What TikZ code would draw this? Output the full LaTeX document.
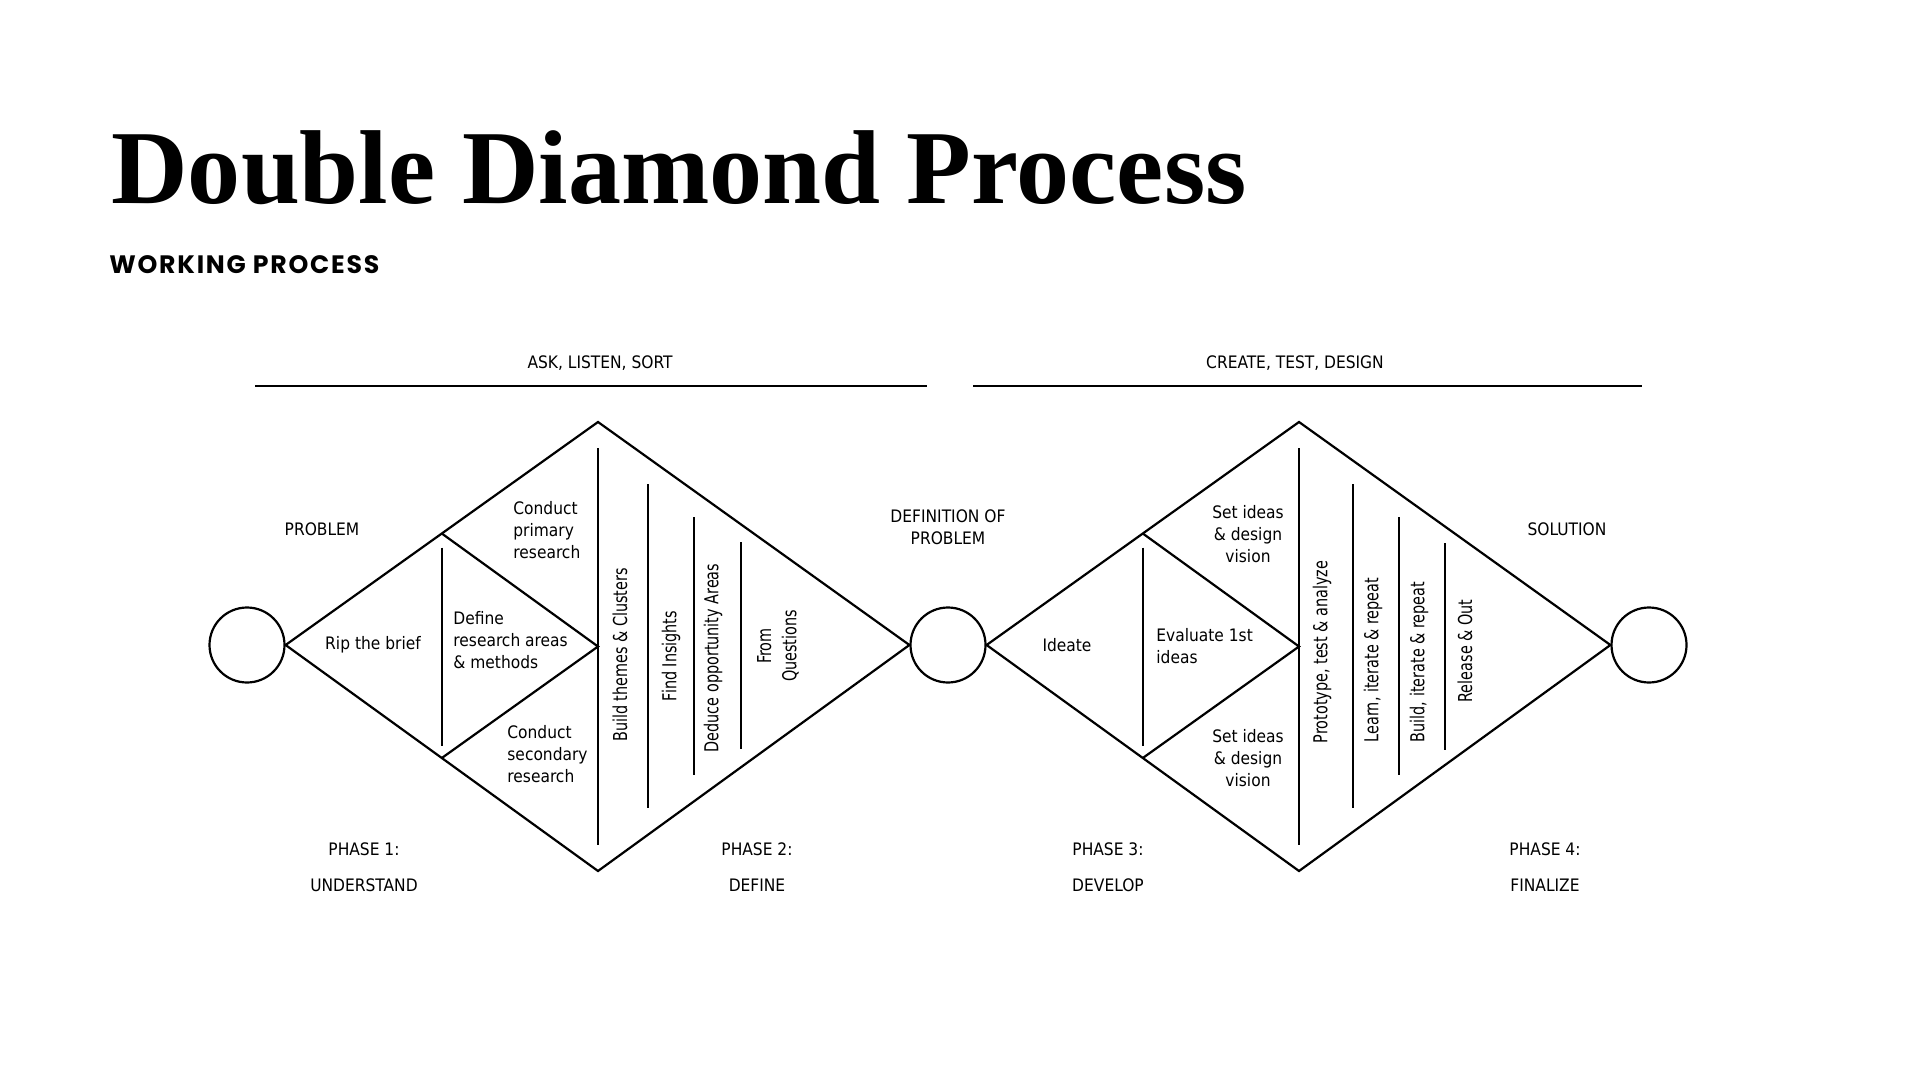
\documentclass[tikz,border=0pt]{standalone}
\usepackage{fontspec}
\setmainfont{DejaVu Sans Condensed}
\newfontfamily\headfont{Liberation Serif}
\newfontfamily\subheadfont[LetterSpace=7]{Poppins}
\usetikzlibrary{calc}
\tikzset{
	outline/.style={line width=1.1pt},
	endpoint/.style={circle, draw, outline, minimum size=37.5pt, inner sep=0pt},
	lbl/.style={font=\fontsize{8.6}{11}\selectfont, inner sep=0pt, align=center},
	lblleft/.style={lbl, align=left, anchor=west},
	vlbl/.style={font=\fontsize{8}{10.5}\selectfont, inner sep=0pt, align=center, rotate=90, yscale=1.2},
}
\begin{document}
\begin{tikzpicture}[x=0.5pt, y=-0.5pt]
	\useasboundingbox (0,0) rectangle (1920,1080);
	% heading
	\node[anchor=base west, inner sep=0pt, xscale=1.01] (title) at (111,204)
	{\headfont\bfseries\fontsize{52.5}{56}\selectfont Double Diamond Process};
	\node[anchor=base west, inner sep=0pt] (subtitle) at (109,274)
	{\subheadfont\bfseries\fontsize{12.6}{14}\selectfont WORKING PROCESS};
	% rules on top
	\draw[outline] (255,386) coordinate (r1a) -- (927,386) coordinate (r1b);
	\draw[outline] (973,386) coordinate (r2a) -- (1642,386) coordinate (r2b);
	\node[lbl] (ask) at (600,363) {ASK, LISTEN, SORT};
	\node[lbl] (create) at (1295,363) {CREATE, TEST, DESIGN};
	% circles and diamonds
	\node[endpoint] (start) at (247,645) {};
	\node[endpoint] (mid) at (948,645) {};
	\node[endpoint] (finish) at (1649,645) {};
	\path 
	(598,422) coordinate (T1)
	(598,871) coordinate (B1)
	(1299,422) coordinate (T2)
	(1299,871) coordinate (B2);
	\draw[outline] (start.east) -- (T1) -- (mid.west) -- (B1) -- cycle;
	\draw[outline] (mid.east) -- (T2) -- (finish.west) -- (B2) -- cycle;
	\foreach \l/\i in {start/1, mid/2}{
		\path ($(\l.east)!.5!(T\i)$) coordinate (U\i)
		($(\l.east)!.5!(B\i)$) coordinate (L\i)
		($(T\i)!.5!(B\i)$) coordinate (C\i);
		\draw[outline] (U\i) -- (C\i) -- (L\i);
		\draw[outline] ($(U\i)+(0,14)$) -- ($(L\i)+(0,-12)$);
	}
	\foreach \x/\a/\b in {598/448/845, 648/484/808, 694/517/775, 741/542/749,
		1299/448/845, 1353/484/808, 1399/517/775, 1445/543/750}
	\draw[outline] (\x,\a) -- (\x,\b);
	% outside labels
	\node[lbl] (problem) at (322,529) {PROBLEM};
	\node[lbl] (defprob) at (948,527) {DEFINITION OF\\PROBLEM};
	\node[lbl] (solution) at (1567,529) {SOLUTION};
	\foreach \n/\x/\t/\s in {ph1/364/PHASE 1:/UNDERSTAND, ph2/757/PHASE 2:/DEFINE,
		ph3/1108/PHASE 3:/DEVELOP, ph4/1545/PHASE 4:/FINALIZE}{
		\node[lbl] (\n) at (\x,849) {\t};
		\node[lbl] (\n name) at (\x,885) {\s};
	}
	% inside the diamonds
	\node[lbl] (rip) at (373,645) {Rip the brief};
	\node[lblleft] (define) at (453,640) {Define\\research areas\\\& methods};
	\node[lblleft] (primary) at (513,530) {Conduct\\primary\\research};
	\node[lblleft] (secondary) at (507,754) {Conduct\\secondary\\research};
	\node[lbl] (ideate) at (1067,645) {Ideate};
	\node[lblleft] (evaluate) at (1156,646) {Evaluate 1st\\ideas};
	\node[lbl] (setup) at (1248,534) {Set ideas\\\& design\\vision};
	\node[lbl] (setdown) at (1248,758) {Set ideas\\\& design\\vision};
	\foreach \n/\x/\y/\t in {themes/620/655/{Build themes \& Clusters},
		insights/671/656/{Find Insights},
		deduce/713/658/{Deduce opportunity Areas},
		questions/778/646/{From\\Questions},
		prototype/1322/652/{Prototype, test \& analyze},
		learn/1373/660/{Learn, iterate \& repeat},
		build/1419/662/{Build, iterate \& repeat},
		release/1465/651/{Release \& Out}}
	\node[vlbl] (\n) at (\x,\y) {\t};
\end{tikzpicture}
\end{document}
